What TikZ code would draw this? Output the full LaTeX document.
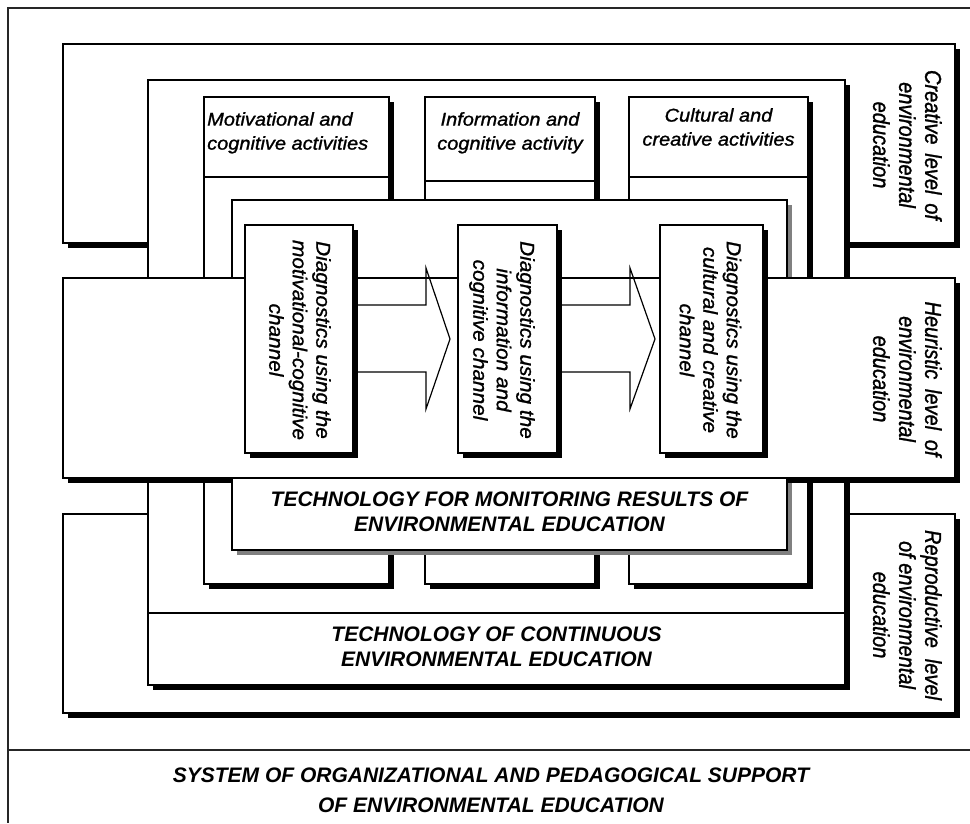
\documentclass[tikz,border=0pt]{standalone}
\usepackage{fontspec}
\setmainfont{Liberation Sans}
\newfontfamily\lvlfont[FakeStretch=0.87,FakeBold=1.2]{Liberation Sans}
\newfontfamily\actfont[FakeStretch=1.08,FakeBold=1.2]{Liberation Sans}
\newfontfamily\dgfont[FakeStretch=1.04,FakeBold=1.2]{Liberation Sans}
\usetikzlibrary{calc,shadows}
\tikzset{
  bx/.style={draw=black, line width=1.6pt, fill=white, inner sep=0pt, outer sep=0pt, anchor=north west,
     drop shadow={shadow xshift=5pt, shadow yshift=-5pt, fill=black, opacity=1}},
  gbx/.style={draw=black, line width=1.6pt, fill=white, inner sep=0pt, outer sep=0pt, anchor=north west,
     drop shadow={shadow xshift=5pt, shadow yshift=-5pt, fill=black!50, opacity=1}},
  ln/.style={draw=black, line width=1.6pt},
  frameln/.style={draw=black!85, line width=1.5pt},
  flow/.style={draw=black, line width=1.2pt, line join=miter},
  lvl/.style={rotate=-90, align=center, inner sep=0pt, font=\lvlfont\itshape\fontsize{23}{26}\selectfont},
  dtx/.style={rotate=-90, align=center, inner sep=0pt, font=\dgfont\itshape\fontsize{20}{23.5}\selectfont},
  atx/.style={align=center, inner sep=0pt, font=\actfont\itshape\fontsize{18.5}{24}\selectfont},
  captx/.style={align=center, inner sep=0pt, font=\bfseries\itshape\fontsize{21}{25}\selectfont},
}
\begin{document}
\begin{tikzpicture}[x=1pt,y=-1pt]
\fill[white] (0,0) rectangle (970,823);
\useasboundingbox (0,0) rectangle (970,823);
% outer frame
\draw[frameln] (970,8) -- (8,8) -- (8,823);
\draw[frameln] (8,750) -- (970,750);
% level boxes (back)
\node[bx, minimum width=892pt, minimum height=199pt] (cre) at (63,44) {};
\node[bx, minimum width=892pt, minimum height=199pt] (rep) at (63,514) {};
% technology of continuous education
\node[bx, minimum width=697pt, minimum height=605pt] (con) at (148,80) {};
\draw[ln] ($(con.north west)+(0,533)$) -- ($(con.north east)+(0,533)$);
% activity columns
\node[bx, minimum width=185pt, minimum height=487pt] (a1) at (204,97) {};
\draw[ln] ($(a1.north west)+(0,80)$) -- ($(a1.north east)+(0,80)$);
\node[bx, minimum width=170pt, minimum height=487pt] (a2) at (425,97) {};
\draw[ln] ($(a2.north west)+(0,84)$) -- ($(a2.north east)+(0,84)$);
\node[bx, minimum width=179pt, minimum height=487pt] (a3) at (629,97) {};
\draw[ln] ($(a3.north west)+(0,80)$) -- ($(a3.north east)+(0,80)$);
% monitoring frame
\node[gbx, minimum width=555pt, minimum height=350pt] (mon) at (232,200) {};
% heuristic level
\node[bx, minimum width=892pt, minimum height=200pt] (heu) at (63,278) {};
% monitoring label part
\node[gbx, minimum width=555pt, minimum height=72pt] (monl) at (232,478) {};
% diagnostics boxes
\node[bx, minimum width=108pt, minimum height=228pt] (d1) at (245,225) {};
\node[bx, minimum width=99pt, minimum height=228pt] (d2) at (458,225) {};
\node[bx, minimum width=103pt, minimum height=228pt] (d3) at (660,225) {};
% block arrows
\draw[flow] ($(d1.east)+(5,-34)$) -- ($(d1.east)+(73,-34)$) -- ($(d1.east)+(73,-71)$)
  -- ($(d2.west)+(-8,0)$) -- ($(d1.east)+(73,70)$) -- ($(d1.east)+(73,33)$) -- ($(d1.east)+(5,33)$);
\draw[flow] ($(d2.east)+(5,-34)$) -- ($(d2.east)+(73,-34)$) -- ($(d2.east)+(73,-71)$)
  -- ($(d3.west)+(-5,0)$) -- ($(d2.east)+(73,70)$) -- ($(d2.east)+(73,33)$) -- ($(d2.east)+(5,33)$);
% texts
\node[atx, anchor=north west, align=left] (ta1) at (207,112) {Motivational and\\cognitive activities};
\node[atx, anchor=north] (ta2) at (510,112) {Information and\\cognitive activity};
\node[atx, anchor=north] (ta3) at (718.5,108) {Cultural and\\creative activities};
\node[dtx, anchor=north] (t1) at (331,340) {Diagnostics using the\\motivational-cognitive\\channel};
\node[dtx, anchor=north] (t2) at (535,340) {Diagnostics using the\\information and\\cognitive channel};
\node[dtx, anchor=north] (t3) at (741.5,340) {Diagnostics using the\\cultural and creative\\channel};
\node[lvl, anchor=north] (tcre) at (942,145) {\makebox[150pt][s]{Creative level of}\\environmental\\education};
\node[lvl, anchor=north] (theu) at (942,379) {\makebox[155pt][s]{Heuristic level of}\\environmental\\education};
\node[lvl, anchor=north] (trep) at (942,615) {\makebox[170pt][s]{Reproductive level}\\of environmental\\education};
\node[captx] (tmon) at (509.5,512) {TECHNOLOGY FOR MONITORING RESULTS OF\\ENVIRONMENTAL EDUCATION};
\node[captx] (tcon) at (496.5,647) {TECHNOLOGY OF CONTINUOUS\\ENVIRONMENTAL EDUCATION};
\node[captx, font=\bfseries\itshape\fontsize{21}{30}\selectfont] (tsys) at (491,790.5) {SYSTEM OF ORGANIZATIONAL AND PEDAGOGICAL SUPPORT\\OF ENVIRONMENTAL EDUCATION};
\end{tikzpicture}
\end{document}
